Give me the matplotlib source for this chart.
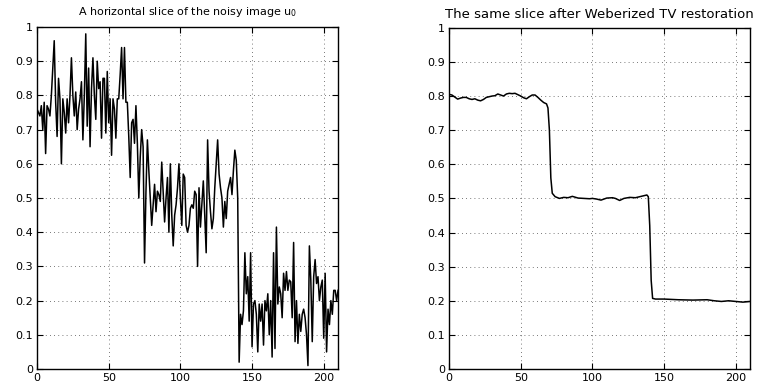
import numpy as np
import matplotlib.pyplot as plt

plt.rcParams['font.family'] = ['DejaVu Sans']
plt.rcParams['mathtext.fontset'] = 'dejavusans'

# --- data ---
# noisy slice, one value per pixel 0..210
noisy = [
    0.76, 0.75, 0.74, 0.77, 0.70, 0.78, 0.63, 0.77, 0.76, 0.74,
    0.80, 0.88, 0.96, 0.78, 0.68, 0.85, 0.79, 0.60, 0.79, 0.75,
    0.69, 0.79, 0.72, 0.80, 0.91, 0.80, 0.74, 0.81, 0.70, 0.76,
    0.79, 0.84, 0.67, 0.80, 0.98, 0.71, 0.88, 0.65, 0.82, 0.91,
    0.80, 0.73, 0.90, 0.82, 0.84, 0.675, 0.85, 0.85, 0.69, 0.87,
    0.72, 0.79, 0.625, 0.79, 0.76, 0.675, 0.79, 0.79, 0.86, 0.94,
    0.79, 0.94, 0.78, 0.78, 0.68, 0.56, 0.72, 0.73, 0.66, 0.77,
    0.66, 0.50, 0.62, 0.70, 0.65, 0.31, 0.52, 0.67, 0.58, 0.50,
    0.42, 0.48, 0.54, 0.46, 0.52, 0.51, 0.49, 0.605, 0.52, 0.43,
    0.50, 0.56, 0.40, 0.60, 0.45, 0.36, 0.45, 0.48, 0.53, 0.60,
    0.50, 0.42, 0.57, 0.56, 0.42, 0.40, 0.42, 0.47, 0.48, 0.47,
    0.52, 0.51, 0.30, 0.53, 0.415, 0.48, 0.55, 0.45, 0.34, 0.67,
    0.52, 0.46, 0.41, 0.44, 0.53, 0.60, 0.67, 0.57, 0.53, 0.50,
    0.415, 0.49, 0.44, 0.52, 0.54, 0.56, 0.51, 0.58, 0.64, 0.61,
    0.50, 0.02, 0.16, 0.13, 0.17, 0.34, 0.22, 0.27, 0.14, 0.34,
    0.065, 0.19, 0.20, 0.16, 0.05, 0.19, 0.14, 0.19, 0.07, 0.20,
    0.17, 0.22, 0.10, 0.20, 0.035, 0.34, 0.06, 0.415, 0.19, 0.24,
    0.22, 0.15, 0.28, 0.23, 0.285, 0.23, 0.26, 0.255, 0.15, 0.37,
    0.08, 0.20, 0.075, 0.16, 0.11, 0.16, 0.175, 0.15, 0.10, 0.01,
    0.36, 0.26, 0.08, 0.27, 0.32, 0.25, 0.27, 0.20, 0.24, 0.26,
    0.09, 0.28, 0.05, 0.175, 0.13, 0.20, 0.16, 0.23, 0.23, 0.20,
    0.23,
]
noisy_x = np.arange(len(noisy))

# restored slice (smooth, sampled more sparsely)
restored_x = [0, 2, 4, 6, 8, 10, 12, 14, 16, 18, 20, 22, 24, 26, 28, 30, 32, 34,
              36, 38, 40, 42, 44, 46, 48, 50, 52, 54, 56, 58, 60, 62, 64, 66,
              68, 69, 70, 71, 72, 74, 77, 80, 83, 86, 90, 94, 98, 100, 103, 106,
              110, 114, 116, 119, 122, 126, 130, 133, 136, 138, 139, 140, 141,
              142, 144, 150, 160, 170, 180, 185, 190, 195, 200, 205, 210]
restored_y = [0.805, 0.803, 0.797, 0.791, 0.794, 0.796, 0.796, 0.792, 0.790, 0.792,
              0.788, 0.786, 0.790, 0.796, 0.798, 0.800, 0.801, 0.806, 0.803, 0.800,
              0.806, 0.808, 0.807, 0.808, 0.804, 0.800, 0.795, 0.792, 0.798, 0.803,
              0.803, 0.796, 0.788, 0.781, 0.777, 0.765, 0.70, 0.56, 0.515, 0.505,
              0.500, 0.503, 0.502, 0.506, 0.501, 0.500, 0.499, 0.500, 0.498, 0.495,
              0.501, 0.502, 0.500, 0.494, 0.500, 0.503, 0.502, 0.505, 0.508, 0.510,
              0.505, 0.42, 0.26, 0.207, 0.205, 0.205, 0.203, 0.202, 0.203, 0.200,
              0.198, 0.200, 0.198, 0.196, 0.198]

y_ticks = [0, 0.1, 0.2, 0.3, 0.4, 0.5, 0.6, 0.7, 0.8, 0.9, 1]
y_labels = ['0', '0.1', '0.2', '0.3', '0.4', '0.5', '0.6', '0.7', '0.8', '0.9', '1']
x_ticks = [0, 50, 100, 150, 200]

fig = plt.figure(figsize=(7.65, 3.86), dpi=100)
ax1 = fig.add_axes([0.0484, 0.044, 0.3935, 0.886])
ax2 = fig.add_axes([0.587, 0.044, 0.3935, 0.884])


def style(ax, title, title_size, title_pad):
    ax.set_xlim(0, 210)
    ax.set_ylim(0, 1)
    ax.set_xticks(x_ticks)
    ax.set_yticks(y_ticks)
    ax.set_yticklabels(y_labels)
    ax.tick_params(direction='in', length=4, width=0.8, labelsize=8,
                   top=True, right=True, pad=3, colors='black')
    ax.grid(True, linestyle=(0, (1, 4)), color='black', linewidth=0.6, alpha=0.7)
    for s in ax.spines.values():
        s.set_linewidth(1.0)
    ax.set_title(title, fontsize=title_size, pad=title_pad)


ax1.plot(noisy_x, noisy, color='black', linewidth=1.1)
style(ax1, r'A horizontal slice of the noisy image u$_{\mathregular{0}}$', 8, 9)

ax2.plot(restored_x, restored_y, color='black', linewidth=1.1)
style(ax2, 'The same slice after Weberized TV restoration', 9.5, 7)

fig.savefig('out.png', dpi=100)
